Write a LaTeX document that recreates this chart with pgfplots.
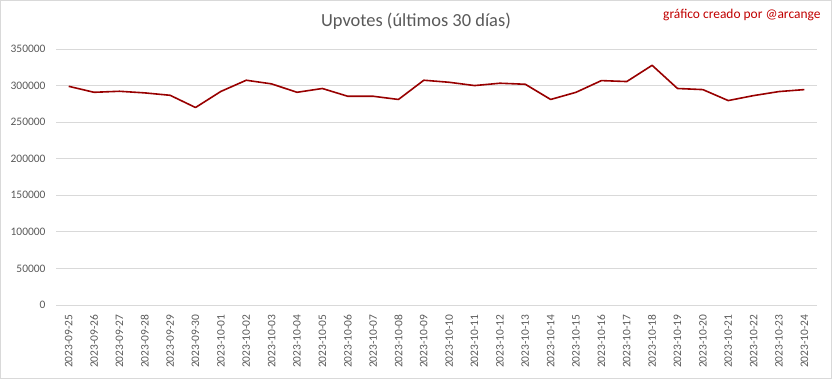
\documentclass[border=0pt]{standalone}
\usepackage{pgfplots}
\pgfplotsset{compat=1.18}
\usepackage{fontspec}
\setmainfont{Carlito}
\definecolor{txtgray}{HTML}{595959}
\definecolor{gridgray}{HTML}{D9D9D9}
\definecolor{linered}{HTML}{980000}
\definecolor{notered}{HTML}{C00000}
\begin{document}
\begin{tikzpicture}
\path[use as bounding box] (0,0) rectangle (832bp,379bp);
\draw[gridgray, line width=0.75bp] (0.5bp,0.5bp) rectangle (831.5bp,378.5bp);
\begin{axis}[
  at={(56bp,74bp)}, anchor=south west,
  scale only axis, width=761bp, height=256bp,
  xmin=-0.5, xmax=29.5, ymin=0, ymax=350000,
  xtick={0,...,29},
  xticklabels={2023-09-25,2023-09-26,2023-09-27,2023-09-28,2023-09-29,2023-09-30,2023-10-01,2023-10-02,2023-10-03,2023-10-04,2023-10-05,2023-10-06,2023-10-07,2023-10-08,2023-10-09,2023-10-10,2023-10-11,2023-10-12,2023-10-13,2023-10-14,2023-10-15,2023-10-16,2023-10-17,2023-10-18,2023-10-19,2023-10-20,2023-10-21,2023-10-22,2023-10-23,2023-10-24},
  ytick={0,50000,...,350000},
  scaled y ticks=false,
  yticklabel style={/pgf/number format/fixed, /pgf/number format/1000 sep={}, /pgf/number format/assume math mode=true, font=\fontsize{11.5}{13}\selectfont, text=txtgray},
  xticklabel style={rotate=90, anchor=east, font=\fontsize{11.5}{13}\selectfont, text=txtgray},
  ymajorgrids, grid style={gridgray, line width=0.75bp},
  axis x line*=bottom, axis y line*=left,
  x axis line style={gridgray, line width=0.75bp, -},
  y axis line style={draw=none},
  major tick length=0pt,
  xtick style={draw=none}, ytick style={draw=none},
  yticklabel shift=7bp, xticklabel shift=6bp,
  clip=false,
]
\addplot[linered, line width=1.6bp, line join=round] coordinates {
(0,299000) (1,290800) (2,292200) (3,290000) (4,286700) (5,270000)
(6,292000) (7,307300) (8,302300) (9,290800) (10,296000) (11,285400)
(12,285400) (13,281000) (14,307300) (15,304500) (16,300000) (17,303200)
(18,301800) (19,281000) (20,290800) (21,306800) (22,305500) (23,327700)
(24,296000) (25,294500) (26,279500) (27,286300) (28,291800) (29,294500)
};
\end{axis}
\node[text=txtgray, font=\fontsize{18.5}{22}\selectfont] at (416bp,358bp) {Upvotes (últimos 30 días)};
\node[text=notered, font=\fontsize{13.5}{16}\selectfont, anchor=east] at (824bp,364bp) {gráfico creado por @arcange};
\end{tikzpicture}
\end{document}
